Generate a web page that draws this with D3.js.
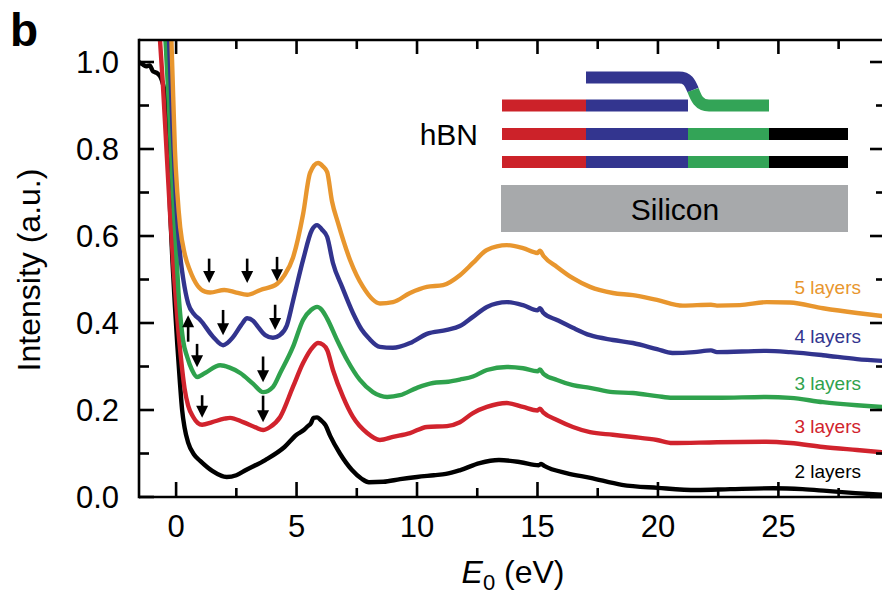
<!DOCTYPE html>
<html><head><meta charset="utf-8">
<script src="https://cdn.jsdelivr.net/npm/d3@7"></script>
<style>body{margin:0;background:#fff}svg{display:block;font-family:"Liberation Sans",Arial,Helvetica,sans-serif}</style>
</head><body>
<svg id="c" width="882" height="598"></svg>
<script>
// ---- data (E0 in eV, intensity in a.u.) ----
const layers2 = [[-1.54,1.0],[-1.4,0.995],[-1.25,0.99],[-1.1,0.992],[-0.95,0.978],[-0.8,0.975],[-0.65,0.966],[-0.55,0.95],[-0.45,0.92],[-0.35,0.82],[-0.25,0.66],[-0.15,0.54],[-0.05,0.44],[0.05,0.35],[0.15,0.27],[0.25,0.2],[0.35,0.16],[0.5,0.125],[0.75,0.097],[1.0,0.083],[1.5,0.06],[2.1,0.046],[2.5,0.05],[2.9,0.062],[3.7,0.085],[4.5,0.115],[5.0,0.143],[5.3,0.154],[5.45,0.162],[5.6,0.17],[5.7,0.182],[5.85,0.183],[6.0,0.177],[6.2,0.165],[6.4,0.14],[6.8,0.1],[7.3,0.062],[7.7,0.042],[8.0,0.034],[8.6,0.035],[9.3,0.041],[10.0,0.046],[10.7,0.05],[11.2,0.053],[11.8,0.062],[12.6,0.078],[13.4,0.085],[14.3,0.08],[15.05,0.073],[15.15,0.076],[15.3,0.071],[16.2,0.055],[17.2,0.044],[18.5,0.028],[20,0.021],[21.6,0.016],[23,0.018],[24.8,0.02],[26,0.018],[27,0.014],[28.2,0.009],[29.3,0.005]];
const layers3red = [[-0.68,1.06],[-0.55,0.95],[-0.4,0.8],[-0.25,0.65],[-0.1,0.52],[0.05,0.41],[0.2,0.32],[0.35,0.25],[0.5,0.21],[0.71,0.184],[0.9,0.17],[1.08,0.166],[1.5,0.172],[2.0,0.18],[2.24,0.182],[2.78,0.172],[3.3,0.16],[3.61,0.154],[3.9,0.161],[4.32,0.184],[4.85,0.253],[5.27,0.308],[5.68,0.345],[5.89,0.354],[6.1,0.35],[6.27,0.338],[6.51,0.292],[6.93,0.23],[7.34,0.184],[7.93,0.147],[8.46,0.131],[9.0,0.138],[9.71,0.147],[10.41,0.161],[11.24,0.163],[11.78,0.172],[12.32,0.193],[12.9,0.207],[13.73,0.216],[14.4,0.207],[15.0,0.199],[15.1,0.203],[15.25,0.194],[15.81,0.177],[16.47,0.161],[17.18,0.149],[18.13,0.143],[18.96,0.138],[19.96,0.131],[20.6,0.124],[22.45,0.126],[24.5,0.127],[25.5,0.124],[26.85,0.115],[28.26,0.108],[29.3,0.103]];
const layers3green = [[-0.45,1.06],[-0.3,0.9],[-0.15,0.72],[0.0,0.57],[0.1,0.47],[0.17,0.42],[0.29,0.36],[0.46,0.322],[0.66,0.292],[0.87,0.276],[1.2,0.285],[1.83,0.303],[2.2,0.298],[2.66,0.285],[3.2,0.26],[3.61,0.241],[4.02,0.253],[4.32,0.285],[4.85,0.345],[5.27,0.407],[5.6,0.43],[5.85,0.437],[6.05,0.43],[6.27,0.41],[6.68,0.361],[7.1,0.315],[7.63,0.269],[8.17,0.241],[8.76,0.23],[9.29,0.234],[10.0,0.251],[10.66,0.262],[11.3,0.265],[11.78,0.27],[12.32,0.277],[12.9,0.292],[13.73,0.299],[14.4,0.296],[15.0,0.289],[15.1,0.293],[15.25,0.283],[15.81,0.269],[16.47,0.257],[17.18,0.251],[18.13,0.241],[18.96,0.239],[19.96,0.232],[20.6,0.228],[22.45,0.228],[24.5,0.23],[25.5,0.228],[26.85,0.218],[28.26,0.211],[29.3,0.207]];
const layers4 = [[-0.3,1.06],[-0.15,0.85],[0.0,0.68],[0.1,0.6],[0.2,0.54],[0.3,0.5],[0.5,0.445],[0.75,0.42],[1.0,0.407],[1.54,0.368],[1.95,0.349],[2.37,0.368],[2.7,0.395],[2.95,0.411],[3.2,0.405],[3.4,0.391],[3.7,0.372],[4.02,0.366],[4.3,0.372],[4.6,0.395],[4.85,0.45],[5.27,0.545],[5.64,0.614],[5.85,0.625],[6.05,0.615],[6.27,0.598],[6.51,0.538],[6.89,0.483],[7.34,0.423],[7.7,0.385],[8.0,0.365],[8.46,0.345],[9.0,0.343],[9.71,0.354],[10.41,0.375],[11.24,0.384],[11.78,0.393],[12.32,0.414],[12.9,0.437],[13.73,0.448],[14.4,0.441],[15.0,0.429],[15.1,0.434],[15.25,0.423],[15.81,0.407],[16.47,0.389],[17.18,0.372],[18.13,0.361],[18.96,0.354],[19.96,0.34],[20.6,0.331],[21.5,0.333],[22.2,0.337],[22.45,0.333],[24.5,0.336],[25.5,0.333],[26.85,0.326],[28.26,0.317],[29.3,0.313]];
const layers5 = [[-0.2,1.06],[-0.12,0.92],[-0.05,0.8],[0.05,0.7],[0.17,0.62],[0.37,0.556],[0.58,0.52],[0.9,0.485],[1.2,0.472],[1.41,0.47],[2.0,0.476],[2.5,0.47],[2.95,0.465],[3.5,0.476],[4.19,0.49],[4.5,0.51],[4.85,0.55],[5.27,0.65],[5.56,0.745],[5.89,0.768],[6.1,0.76],[6.27,0.747],[6.47,0.68],[6.72,0.63],[7.22,0.545],[7.76,0.483],[8.46,0.445],[9.0,0.448],[9.71,0.469],[10.41,0.483],[11.08,0.487],[11.78,0.51],[12.32,0.538],[12.9,0.568],[13.73,0.579],[14.4,0.572],[15.0,0.561],[15.1,0.566],[15.25,0.554],[15.81,0.529],[16.47,0.503],[17.18,0.483],[18.13,0.469],[18.96,0.464],[19.96,0.453],[21.04,0.44],[22.2,0.442],[22.45,0.44],[23.4,0.441],[24.52,0.448],[25.47,0.447],[26.85,0.434],[28.26,0.423],[29.3,0.416]];

const seriesNames = ["2 layers","3 layers","3 layers","4 layers","5 layers"];
const seriesColors = ["#000000","#d1232d","#2fa24d","#32348e","#e8962e"];
const seriesData = [layers2, layers3red, layers3green, layers4, layers5];
const labelY = [0.043, 0.147, 0.246, 0.353, 0.466]; // label baselines in data units

// arrows: [E0, tail intensity, tip intensity]
const arrows = [[1.37,0.548,0.492],[2.95,0.548,0.492],[4.19,0.552,0.496],
                [1.95,0.43,0.372],[4.11,0.442,0.384],
                [0.5,0.357,0.418],
                [0.87,0.352,0.298],[3.61,0.323,0.264],
                [1.08,0.234,0.182],[3.61,0.233,0.172]];

const xMajor = [0,5,10,15,20,25];
const xMinor = [2.5,7.5,12.5,17.5,22.5,27.5];
const yMajor = [0,0.2,0.4,0.6,0.8,1.0];
const yMinor = [0.1,0.3,0.5,0.7,0.9];

// ---- layout ----
const L=139, T=40, R=882, B=497;
const svg = d3.select("#c");
const x = d3.scaleLinear().domain([-1.54,29.3]).range([L,R]);
const y = d3.scaleLinear().domain([0,1.0506]).range([B,T]);

svg.append("defs").append("clipPath").attr("id","clip")
  .append("rect").attr("x",L).attr("y",T).attr("width",R-L).attr("height",B-T);

const line = d3.line().x(d=>x(d[0])).y(d=>y(d[1])).curve(d3.curveMonotoneX);
const g = svg.append("g").attr("clip-path","url(#clip)");
seriesData.forEach((s,i)=>{
  g.append("path").attr("d",line(s)).attr("fill","none")
   .attr("stroke",seriesColors[i]).attr("stroke-width",4.4)
   .attr("stroke-linejoin","round").attr("stroke-linecap","round");
});

// axes
const ax = svg.append("g").attr("stroke","#000").attr("stroke-width",2.6);
ax.append("line").attr("x1",L).attr("x2",L).attr("y1",T-1.3).attr("y2",B+1.3);
ax.append("line").attr("x1",L).attr("x2",R).attr("y1",B).attr("y2",B);
ax.append("line").attr("x1",L).attr("x2",R).attr("y1",T).attr("y2",T);
xMajor.forEach(v=>{
  ax.append("line").attr("x1",x(v)).attr("x2",x(v)).attr("y1",B).attr("y2",B-15);
  ax.append("line").attr("x1",x(v)).attr("x2",x(v)).attr("y1",T).attr("y2",T+14);
});
xMinor.forEach(v=>{
  ax.append("line").attr("x1",x(v)).attr("x2",x(v)).attr("y1",B).attr("y2",B-9);
  ax.append("line").attr("x1",x(v)).attr("x2",x(v)).attr("y1",T).attr("y2",T+9);
});
yMajor.forEach(v=>{
  ax.append("line").attr("x1",L).attr("x2",L+15).attr("y1",y(v)).attr("y2",y(v));
  ax.append("line").attr("x1",R).attr("x2",R-12).attr("y1",y(v)).attr("y2",y(v));
});
yMinor.forEach(v=>{
  ax.append("line").attr("x1",L).attr("x2",L+10).attr("y1",y(v)).attr("y2",y(v));
  ax.append("line").attr("x1",R).attr("x2",R-6).attr("y1",y(v)).attr("y2",y(v));
});

// tick labels
svg.append("g").selectAll("text").data(xMajor).join("text")
  .attr("x",d=>x(d)).attr("y",537).attr("text-anchor","middle")
  .attr("font-size",31).text(d=>d);
svg.append("g").selectAll("text").data(yMajor).join("text")
  .attr("x",119).attr("y",d=>y(d)+11).attr("text-anchor","end")
  .attr("font-size",31).text(d=>d.toFixed(1));

// axis titles
svg.append("text").attr("transform","translate(40,270) rotate(-90)")
  .attr("text-anchor","middle").attr("font-size",32).text("Intensity (a.u.)");
const xt = svg.append("text").attr("x",513).attr("y",583).attr("text-anchor","middle").attr("font-size",32);
xt.append("tspan").attr("font-style","italic").text("E");
xt.append("tspan").attr("font-size",22).attr("dy",7).text("0");
xt.append("tspan").attr("dy",-7).text(" (eV)");

// panel letter
svg.append("text").attr("x",10).attr("y",46).attr("font-size",46).attr("font-weight","bold").text("b");

// series labels
seriesNames.forEach((n,i)=>{
  svg.append("text").attr("x",861).attr("y",y(labelY[i])).attr("text-anchor","end")
    .attr("font-size",19).attr("fill",seriesColors[i]).text(n);
});

// arrows
const ag = svg.append("g");
arrows.forEach(a=>{
  const xp=x(a[0]), y0=y(a[1]), y1=y(a[2]);
  const dir = y1>y0?1:-1;
  ag.append("line").attr("x1",xp).attr("x2",xp).attr("y1",y0).attr("y2",y1-dir*9)
    .attr("stroke","#000").attr("stroke-width",2.6);
  ag.append("path").attr("d",`M${xp-6},${y1-dir*12}L${xp+6},${y1-dir*12}L${xp},${y1}Z`).attr("fill","#000");
});

// inset schematic
const ins = svg.append("g");
const bh = 12;
const rowsY = [105.5,134,162];
const segs = [ [502,586,"#cc2229"],[586,688,"#33358f"],[688,769,"#33a457"],[769,848,"#000"] ];
ins.append("rect").attr("x",502).attr("y",rowsY[0]-bh/2).attr("width",84).attr("height",bh).attr("fill","#cc2229");
ins.append("rect").attr("x",586).attr("y",rowsY[0]-bh/2).attr("width",102).attr("height",bh).attr("fill","#33358f");
[rowsY[1],rowsY[2]].forEach(yy=>{
  segs.forEach(s=>ins.append("rect").attr("x",s[0]).attr("y",yy-bh/2).attr("width",s[1]-s[0]).attr("height",bh).attr("fill",s[2]));
});
ins.append("path").attr("d","M586,77.5H679C688,77.5 690,83 693,90").attr("fill","none").attr("stroke","#33358f").attr("stroke-width",bh);
ins.append("path").attr("d","M693,90C696,98 699,105.5 709,105.5H769").attr("fill","none").attr("stroke","#33a457").attr("stroke-width",bh);
ins.append("rect").attr("x",501).attr("y",185).attr("width",347).attr("height",47).attr("fill","#a7a9ab");
ins.append("text").attr("x",675).attr("y",220).attr("text-anchor","middle").attr("font-size",30).text("Silicon");
ins.append("text").attr("x",478).attr("y",145).attr("text-anchor","end").attr("font-size",30).text("hBN");
</script>
</body></html>
